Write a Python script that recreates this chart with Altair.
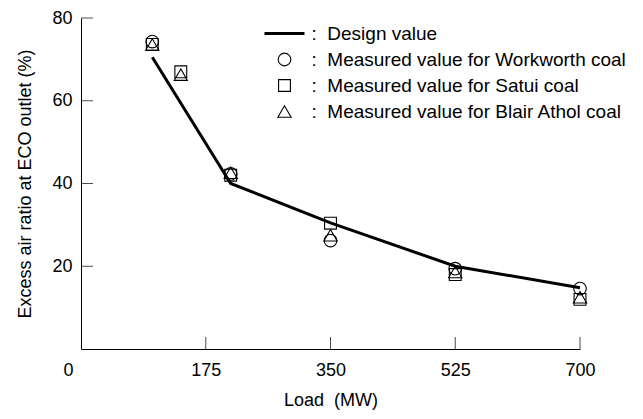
import altair as alt
import pandas as pd

# Design value line
design_load = [100, 210, 350, 525, 700]
design_ratio = [70.5, 40.0, 30.5, 20.0, 14.8]

# Measured values
workworth_load = [100, 210, 350, 525, 700]
workworth_ratio = [74.3, 42.3, 26.2, 19.4, 14.6]

satui_load = [100, 140, 210, 350, 525, 700]
satui_ratio = [73.6, 67.0, 42.0, 30.4, 18.0, 12.0]

blair_load = [100, 140, 210, 350, 525, 700]
blair_ratio = [73.6, 66.3, 42.6, 27.5, 18.6, 12.5]

x_ticks = [175, 350, 525, 700]
x_labels = [0, 175, 350, 525, 700]
y_ticks = [20, 40, 60, 80]

series_names = [
    "Design value",
    "Measured value for Workworth coal",
    "Measured value for Satui coal",
    "Measured value for Blair Athol coal",
]

FONT = "Liberation Sans"

design_df = pd.DataFrame({"load": design_load, "ratio": design_ratio})
meas_df = pd.concat([
    pd.DataFrame({"load": workworth_load, "ratio": workworth_ratio, "series": series_names[1]}),
    pd.DataFrame({"load": satui_load, "ratio": satui_ratio, "series": series_names[2]}),
    pd.DataFrame({"load": blair_load, "ratio": blair_ratio, "series": series_names[3]}),
], ignore_index=True)

xscale = alt.Scale(domain=[0, 700], nice=False, zero=True)
yscale = alt.Scale(domain=[0, 80], nice=False, zero=True)

x_enc = alt.X(
    "load:Q", scale=xscale,
    axis=alt.Axis(
        values=x_labels, tickSize=0, grid=False, domainColor="black", domainWidth=1,
        labelFont=FONT, labelFontSize=18, labelColor="black", labelPadding=12,
        labelOffset={"expr": "datum.value == 0 ? -13 : 0"},
        title="Load\u00a0\u00a0(MW)", titleFont=FONT, titleFontSize=18,
        titleFontWeight="normal", titleColor="black", titleY=42,
        labelFlush=False,
    ),
)
y_enc = alt.Y(
    "ratio:Q", scale=yscale,
    axis=alt.Axis(
        values=y_ticks, tickSize=0, grid=False, domainColor="black", domainWidth=1,
        labelFont=FONT, labelFontSize=18, labelColor="black", labelPadding=9,
        title="Excess air ratio at ECO outlet (%)", titleFont=FONT, titleFontSize=18,
        titleFontWeight="normal", titleColor="black", titleX=-47,
        labelFlush=False,
    ),
)

line = alt.Chart(design_df).mark_line(color="black", strokeWidth=3).encode(
    x=x_enc, y=y_enc
)

LEG_X, LEG_Y = 182, -6

points = alt.Chart(meas_df).mark_point(filled=False, color="black", opacity=1).encode(
    x="load:Q",
    y="ratio:Q",
    shape=alt.Shape(
        "series:N",
        scale=alt.Scale(domain=series_names,
                        range=["M-1,0H1", "circle", "square", "triangle-up"]),
        legend=alt.Legend(
            title=None, orient="none", legendX=LEG_X, legendY=LEG_Y, padding=0,
            labelFont=FONT, labelFontSize=19, labelColor="black",
            labelExpr="':\u00a0\u00a0' + datum.label", labelOffset=5.5, rowPadding=6,
            symbolStrokeColor="black", symbolFillColor="transparent",
            labelLimit=400,
        ),
    ),
    size=alt.Size(
        "series:N",
        scale=alt.Scale(type="ordinal", domain=series_names, range=[1600, 160, 140, 175]),
        legend=alt.Legend(title=None, orient="none", legendX=LEG_X, legendY=LEG_Y),
    ),
    strokeWidth=alt.StrokeWidth(
        "series:N",
        scale=alt.Scale(type="ordinal", domain=series_names, range=[3, 1.1, 1.1, 1.1]),
        legend=alt.Legend(title=None, orient="none", legendX=LEG_X, legendY=LEG_Y),
    ),
)

ytick_df = pd.DataFrame({"v": y_ticks})
xtick_df = pd.DataFrame({"v": x_ticks})

yticks = alt.Chart(ytick_df).mark_tick(
    orient="horizontal", size=12, thickness=1, color="black", xOffset=6
).encode(y=alt.Y("v:Q"), x=alt.datum(0))

xticks = alt.Chart(xtick_df).mark_tick(
    orient="vertical", size=12, thickness=1, color="black", yOffset=-6
).encode(x=alt.X("v:Q"), y=alt.datum(0))

chart = alt.layer(line, points, yticks, xticks).properties(
    width=499, height=331,
    autosize=alt.AutoSizeParams(type="none"),
    padding={"left": 81, "top": 18, "right": 63, "bottom": 70},
    background="white",
).configure_view(stroke=None)

chart.save("out.html", embed_options={"renderer": "svg", "actions": False})
